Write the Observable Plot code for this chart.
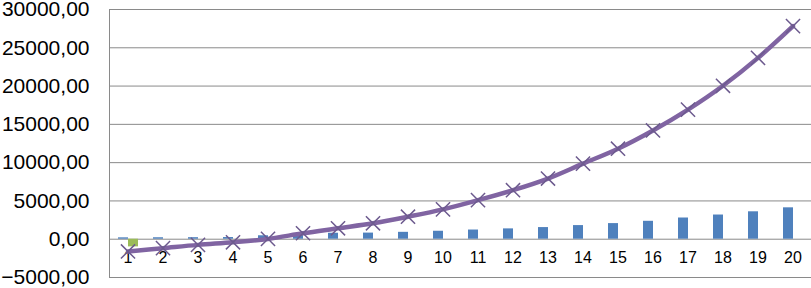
<!DOCTYPE html>
<html>
<head>
<meta charset="utf-8">
<script src="https://cdn.jsdelivr.net/npm/d3@7"></script>
<script src="https://cdn.jsdelivr.net/npm/@observablehq/plot@0.6"></script>
<style>
  html, body { margin: 0; padding: 0; background: #fff; }
  svg { display: block; }
</style>
</head>
<body>
<div id="chart"></div>
<script>
const categories = ["1","2","3","4","5","6","7","8","9","10","11","12","13","14","15","16","17","18","19","20"];
const blueValues = [180, 190, 200, 220, 450, 560, 780, 800, 900, 1040, 1200, 1350, 1520, 1780, 2040, 2340, 2770, 3160, 3580, 4100];
const greenValues = [-1000, 0, 0, 0, 0, 0, 0, 0, 0, 0, 0, 0, 0, 0, 0, 0, 0, 0, 0, 0];
const lineValues = [-1600, -1170, -740, -400, 40, 780, 1430, 2080, 2940, 3900, 5100, 6400, 7920, 9870, 11820, 14200, 16920, 20040, 23680, 27830];
const yTicks = [-5000, 0, 5000, 10000, 15000, 20000, 25000, 30000];

const blue = categories.map((c, i) => ({cat: c, v: blueValues[i]}));
const green = categories.map((c, i) => ({cat: c, v: greenValues[i]})).filter(d => d.v !== 0);
const line = categories.map((c, i) => ({cat: c, v: lineValues[i]}));

const fmt = d => d3.format(".2f")(d).replace(".", ",");

const chart = Plot.plot({
  width: 811,
  height: 288,
  marginLeft: 109,
  marginRight: 0,
  marginTop: 9,
  marginBottom: 11,
  style: {fontFamily: "'Liberation Sans', Arial, sans-serif", color: "#000", background: "#fff"},
  x: {type: "band", domain: categories, padding: 0, axis: null},
  y: {domain: [-5000, 30000], ticks: yTicks},
  marks: [
    Plot.gridY(yTicks, {stroke: "#8a8a8a", strokeOpacity: 1, strokeWidth: 1}),
    Plot.frame({anchor: "left", stroke: "#8a8a8a", strokeWidth: 1}),
    Plot.axisY(yTicks, {tickSize: 0, tickPadding: 20, tickFormat: fmt, fontSize: 21, label: null}),
    Plot.barY(blue, {x: "cat", y: "v", fill: "#4f81bd", insetLeft: 12.5, insetRight: 12.5, dx: -4.5}),
    Plot.barY(green, {x: "cat", y: "v", fill: "#9bbb59", insetLeft: 12.5, insetRight: 12.5, dx: 5.5}),
    Plot.text(categories, {x: d => d, y: () => 0, dy: 19, text: d => d, fontSize: 16, fill: "#000"}),
    Plot.line(line, {x: "cat", y: "v", curve: "catmull-rom", stroke: "#8064a2", strokeWidth: 4.5}),
    Plot.dot(line, {x: "cat", y: "v", symbol: "times", r: 6.5, stroke: "#6c5a8e", strokeWidth: 1.5})
  ]
});
document.getElementById("chart").appendChild(chart);
</script>
</body>
</html>
